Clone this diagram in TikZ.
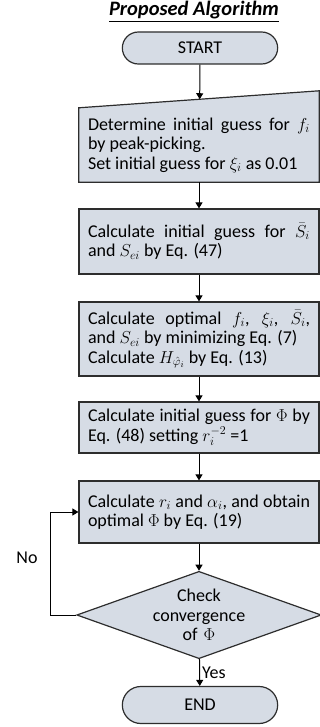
\documentclass[tikz,border=0pt]{standalone}
\usepackage{amsmath}
\usepackage{fontspec}
\setmainfont{Carlito}
\usepackage{xcolor}
\usepackage{tikz}
\usetikzlibrary{shapes.geometric, shapes.misc, arrows.meta, backgrounds}
\definecolor{boxfill}{RGB}{214, 220, 229}
\definecolor{boxline}{RGB}{45, 45, 45}

\begin{document}
\begin{tikzpicture}[x=1pt, y=-1pt,
  every node/.style={font=\fontsize{18}{19.5}\selectfont},
  procbox/.style={draw=boxline, fill=boxfill, line width=1.2pt,
    minimum width=240pt, text width=222pt, inner xsep=9pt, align=justify},
  termbox/.style={draw=boxline, fill=boxfill, line width=1.2pt,
    rounded rectangle, minimum width=162pt, align=center},
  flow/.style={-{Triangle[length=6pt, width=7pt]}, line width=1pt, draw=black}]
  \useasboundingbox (0,0) rectangle (320,727);

  \node (title) at (194,12) {\fontsize{20.5}{22}\selectfont\underline{\textbf{\textit{Proposed Algorithm}}}};

  \node[termbox, minimum height=32pt] (start) at (200,48) {START};

  % input box with slanted top
  \node[minimum width=240pt, minimum height=74pt, text width=222pt,
        inner xsep=9pt, align=justify] (box1) at (199,145)
    {Determine initial guess for $f_i$\linebreak by peak-picking.\par
     Set initial guess for $\xi_i$ as 0.01};
  \coordinate (b1nw) at (box1.north west);
  \coordinate (b1ne) at ([yshift=17pt]box1.north east);
  \begin{scope}[on background layer]
    \draw[draw=boxline, fill=boxfill, line width=1.2pt]
      (box1.south west) -- (box1.south east) -- (b1ne) -- (b1nw) -- cycle;
  \end{scope}

  \node[procbox, minimum height=65pt] (box2) at (199,241.5)
    {Calculate initial guess for $\bar{S}_i$\linebreak and $S_{ei}$ by Eq. (47)};

  \node[procbox, minimum height=74pt] (box3) at (199,339)
    {Calculate optimal $f_i$, $\xi_i$, $\bar{S}_i$,\linebreak and $S_{ei}$ by minimizing Eq. (7)\par
     Calculate $H_{\hat{\varphi}_i}$ by Eq. (13)};

  \node[procbox, minimum height=51pt] (box4) at (199,427.5)
    {Calculate initial guess for $\Phi$ by\linebreak Eq. (48) setting $r_i^{-2}$ =1};

  \node[procbox, minimum height=62pt] (box5) at (199,512)
    {Calculate $r_i$ and $\alpha_i$, and obtain\linebreak optimal $\Phi$ by Eq. (19)};

  \node[diamond, draw=boxline, fill=boxfill, line width=1.2pt, aspect=2.8,
        minimum width=240pt, minimum height=86pt, inner sep=0pt,
        text width=100pt, align=center] (check) at (199,615)
    {Check\\ convergence\\ of $\Phi$};

  \node[termbox, minimum height=37pt] (end) at (200,705) {END};

  % connectors
  \draw[flow] (start) -- (intersection of start.south--box1.south and b1nw--b1ne);
  \draw[flow] (box1) -- (box2);
  \draw[flow] (box2) -- (box3);
  \draw[flow] (box3) -- (box4);
  \draw[flow] (box4) -- (box5);
  \draw[flow] (box5) -- (check);
  \draw[flow] (check) -- node[right, inner sep=2pt] {Yes} (end);
  \coordinate (loop) at (50,615);
  \draw[flow] (check.west) -- (loop) |- (box5.west);
  \node (no) at (27,558) {No};
\end{tikzpicture}
\end{document}
